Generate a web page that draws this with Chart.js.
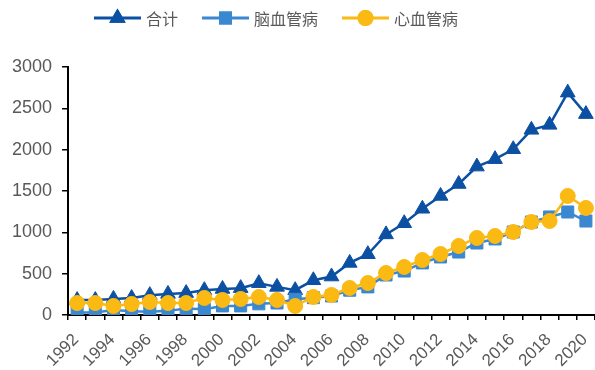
<!DOCTYPE html>
<html>
<head>
<meta charset="utf-8">
<script src="https://cdn.jsdelivr.net/npm/chart.js@4/dist/chart.umd.min.js"></script>
<style>
  html, body { margin: 0; padding: 0; background: #fff; }
  #wrap { width: 595px; height: 370px; }
</style>
</head>
<body>
<div id="wrap"><canvas id="c" width="595" height="370"></canvas></div>
<script>
// Years on the x axis
const years = [1992,1993,1994,1995,1996,1997,1998,1999,2000,2001,2002,2003,2004,2005,2006,
               2007,2008,2009,2010,2011,2012,2013,2014,2015,2016,2017,2018,2019,2020];
// Years that carry a printed label
const yearLabels = years.filter(y => y % 2 === 0).map(String);

// 合计
const totalValues = [180,180,195,205,240,255,265,300,315,325,385,340,300,420,465,
                     630,735,975,1110,1285,1440,1585,1795,1885,2005,2240,2300,2690,2430];
// 脑血管病
const cerebroValues = [30,30,60,45,40,50,80,70,110,110,135,145,190,210,230,
                       300,340,484,532,630,702,762,871,920,1004,1125,1186,1246,1137];
// 心血管病
const cardioValues = [145,145,109,133,157,145,145,206,182,194,218,182,109,218,242,
                      327,387,508,581,665,738,835,932,956,1004,1125,1137,1440,1295];

const yTicks = [0,500,1000,1500,2000,2500,3000];

const C_TOTAL = '#0C50A3';
const C_CEREBRO = '#3A88D0';
const C_CARDIO = '#FBB914';
const TEXT = '#595959';

// Legend drawn as line + marker + label, like an office-style series key
const lineKeyLegend = {
  id: 'lineKeyLegend',
  afterDraw(chart) {
    const ctx = chart.ctx;
    const font = '16px "Noto Sans CJK SC", "Liberation Sans", sans-serif';
    const segW = 47, gapText = 5, gapItem = 24, cy = 18;
    ctx.save();
    ctx.font = font;
    const items = chart.data.datasets.map(ds => ({ ds, w: ctx.measureText(ds.label).width }));
    const total = items.reduce((s, it) => s + segW + gapText + it.w, 0) + gapItem * (items.length - 1);
    let x = 276 - total / 2;
    items.forEach(({ ds, w }) => {
      ctx.strokeStyle = ds.borderColor;
      ctx.lineWidth = 3;
      ctx.beginPath();
      ctx.moveTo(x, cy);
      ctx.lineTo(x + segW, cy);
      ctx.stroke();
      Chart.helpers.drawPoint(ctx, {
        pointStyle: ds.pointStyle,
        radius: ds.pointStyle === 'rect' ? 7 : 6.5,
        borderWidth: 1
      }, x + segW / 2, cy);
      ctx.fillStyle = ds.pointBackgroundColor;
      ctx.strokeStyle = ds.pointBorderColor;
      ctx.fill();
      ctx.stroke();
      ctx.fillStyle = TEXT;
      ctx.textBaseline = 'middle';
      ctx.textAlign = 'left';
      ctx.fillText(ds.label, x + segW + gapText, cy + 1);
      x += segW + gapText + w + gapItem;
    });
    ctx.restore();
  }
};

// Rotated year labels under the category axis (every other year)
const yearAxisLabels = {
  id: 'yearAxisLabels',
  afterDraw(chart) {
    const ctx = chart.ctx;
    const xs = chart.scales.x;
    ctx.save();
    ctx.font = '17px "Liberation Sans", Arial, sans-serif';
    ctx.fillStyle = TEXT;
    ctx.textAlign = 'right';
    ctx.textBaseline = 'middle';
    yearLabels.forEach(lbl => {
      const px = xs.getPixelForValue(years.indexOf(Number(lbl)));
      ctx.save();
      ctx.translate(px - 1, xs.bottom + 17);
      ctx.rotate(-Math.PI / 4);
      ctx.fillText(lbl, 0, 0);
      ctx.restore();
    });
    ctx.restore();
  }
};

new Chart(document.getElementById('c'), {
  type: 'line',
  data: {
    labels: years,
    datasets: [
      {
        label: '合计',
        data: totalValues,
        borderColor: C_TOTAL,
        backgroundColor: C_TOTAL,
        pointBackgroundColor: C_TOTAL,
        pointBorderColor: C_TOTAL,
        pointStyle: 'triangle',
        pointRadius: 8.5,
        pointBorderWidth: 1,
        borderWidth: 2.5,
        order: 3
      },
      {
        label: '脑血管病',
        data: cerebroValues,
        borderColor: C_CEREBRO,
        backgroundColor: C_CEREBRO,
        pointBackgroundColor: C_CEREBRO,
        pointBorderColor: C_CEREBRO,
        pointStyle: 'rect',
        pointRadius: 8.5,
        pointBorderWidth: 1,
        borderWidth: 2.5,
        order: 2
      },
      {
        label: '心血管病',
        data: cardioValues,
        borderColor: C_CARDIO,
        backgroundColor: C_CARDIO,
        pointBackgroundColor: C_CARDIO,
        pointBorderColor: C_CARDIO,
        pointStyle: 'circle',
        pointRadius: 7.5,
        pointBorderWidth: 1,
        borderWidth: 2.5,
        order: 1
      }
    ]
  },
  options: {
    responsive: false,
    animation: false,
    layout: { autoPadding: false, padding: { top: 67, right: 0, left: 2, bottom: 50 } },
    plugins: {
      legend: { display: false },
      tooltip: { enabled: false }
    },
    elements: { line: { tension: 0 } },
    scales: {
      x: {
        offset: true,
        grid: {
          offset: true,
          drawOnChartArea: false,
          drawTicks: true,
          tickLength: 5,
          color: '#000',
          lineWidth: 1.5
        },
        border: { display: true, color: '#000', width: 2 },
        ticks: { display: false }
      },
      y: {
        min: 0,
        max: 3000,
        afterBuildTicks: axis => { axis.ticks = yTicks.map(v => ({ value: v })); },
        grid: {
          drawOnChartArea: false,
          drawTicks: true,
          tickLength: 6,
          color: '#000',
          lineWidth: 1.5
        },
        border: { display: true, color: '#000', width: 2 },
        ticks: {
          color: TEXT,
          padding: 10,
          font: { family: '"Liberation Sans", Arial, sans-serif', size: 18 },
          callback: value => String(value)
        }
      }
    }
  },
  plugins: [lineKeyLegend, yearAxisLabels]
});
</script>
</body>
</html>
